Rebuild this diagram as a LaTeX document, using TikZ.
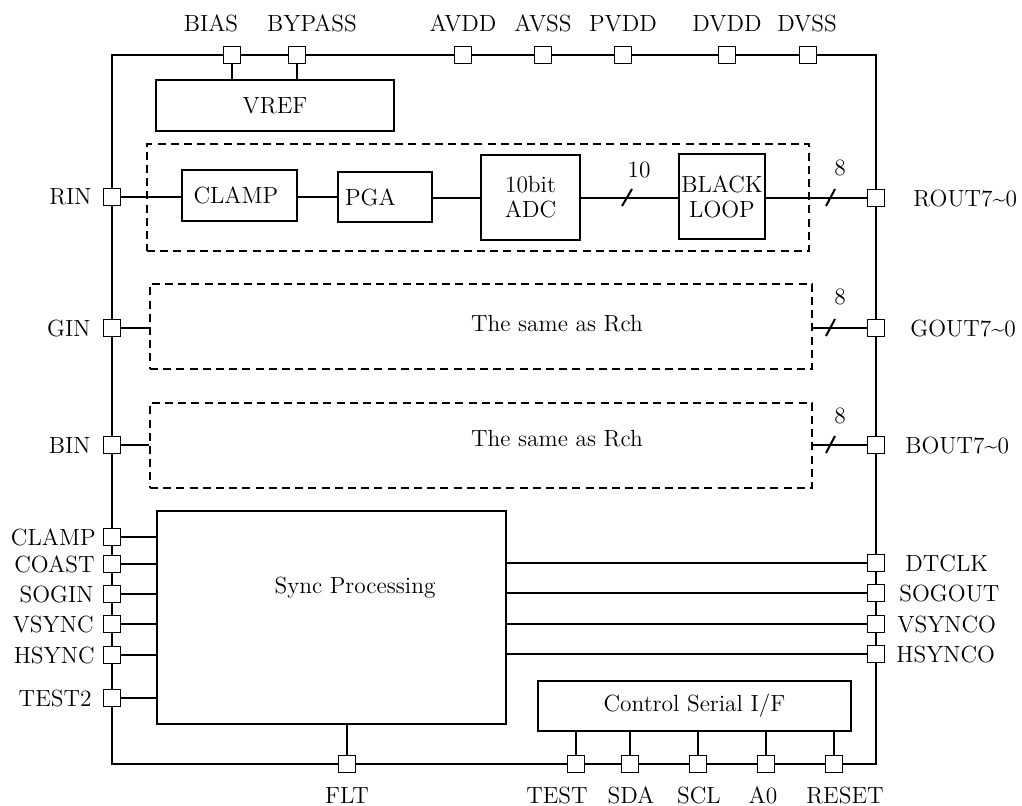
\documentclass[tikz,border=0pt]{standalone}
\begin{document}
\begin{tikzpicture}[x=0.5pt,y=-0.5pt,
  every node/.style={font=\fontsize{11.7}{12.5}\selectfont, inner sep=0pt},
  pinbox/.style={draw, fill=white, line width=0.65pt, minimum size=8.5pt, inner sep=0pt},
  blk/.style={draw, line width=0.65pt, inner sep=0pt, align=center},
  dbox/.style={draw, line width=1.4pt, dash pattern=on 4pt off 2.6pt},
  wire/.style={line width=0.65pt},
  bus/.style={line width=1pt},
  frame/.style={line width=1pt}]
\useasboundingbox (0,0) rectangle (1022,805);
% outer frame
\draw[frame] (112,55) rectangle (876,764);
% blocks
\node[blk, minimum width=119pt, minimum height=25.5pt] (vref) at (275,105.5) {VREF};
\node[dbox, minimum width=331pt, minimum height=53.5pt] (rdash) at (478,197.5) {};
\node[dbox, minimum width=331pt, minimum height=42.5pt] (gdash) at (481,326.5) {};
\node[dbox, minimum width=331pt, minimum height=42.5pt] (bdash) at (481,445.5) {};
\node (gtxt) at (557,324) {The same as Rch};
\node (btxt) at (557,439) {The same as Rch};
\node[blk, minimum width=57.5pt, minimum height=25.5pt, text width=46pt, inner xsep=5.75pt, align=left] (clamp) at (239.5,195.5) {CLAMP};
\node[blk, minimum width=47pt, minimum height=25pt, text width=40pt, inner xsep=3.5pt, align=left] (pga) at (385,197) {PGA};
\node[blk, minimum width=49.5pt, minimum height=42.5pt] (adc) at (530.5,197.5) {10bit\\ADC};
\node[blk, minimum width=43pt, minimum height=42.5pt] (black) at (722,196.5) {BLACK\\LOOP};
\node[blk, minimum width=174.5pt, minimum height=106.5pt] (sync) at (331.5,617.5) {};
\node (synctxt) at (355,588) {Sync Processing};
\node[blk, minimum width=156.5pt, minimum height=25pt] (ctrl) at (694.5,706) {Control Serial I/F};
% top pins
\node[pinbox] (pBIAS) at (232,55) {};
\node[pinbox] (pBYPASS) at (297,55) {};
\node[pinbox] (pAVDD) at (463,55) {};
\node[pinbox] (pAVSS) at (543,55) {};
\node[pinbox] (pPVDD) at (623,55) {};
\node[pinbox] (pDVDD) at (727,55) {};
\node[pinbox] (pDVSS) at (808,55) {};
\node[anchor=base] (lBIAS) at (211,31) {BIAS};
\node[anchor=base] (lBYPASS) at (312,31) {BYPASS};
\node[anchor=base] (lAVDD) at (463,31) {AVDD};
\node[anchor=base] (lAVSS) at (543,31) {AVSS};
\node[anchor=base] (lPVDD) at (623,31) {PVDD};
\node[anchor=base] (lDVDD) at (727,31) {DVDD};
\node[anchor=base] (lDVSS) at (807,31) {DVSS};
% left pins
\node[pinbox] (pRIN) at (112,197) {};
\node[pinbox] (pGIN) at (112,328) {};
\node[pinbox] (pBIN) at (112,445) {};
\node[pinbox] (pCLAMP) at (112,537) {};
\node[pinbox] (pCOAST) at (112,564) {};
\node[pinbox] (pSOGIN) at (112,594) {};
\node[pinbox] (pVSYNC) at (112,624) {};
\node[pinbox] (pHSYNC) at (112,655) {};
\node[pinbox] (pTESTtwo) at (112,698) {};
\node[anchor=east] (lRIN) at (92,197) {RIN};
\node[anchor=east] (lGIN) at (91,328) {GIN};
\node[anchor=east] (lBIN) at (91,445) {BIN};
\node[anchor=east] (lCLAMP) at (96,537) {CLAMP};
\node[anchor=east] (lCOAST) at (95,564) {COAST};
\node[anchor=east] (lSOGIN) at (94,594) {SOGIN};
\node[anchor=east] (lVSYNC) at (94,624) {VSYNC};
\node[anchor=east] (lHSYNC) at (95,655) {HSYNC};
\node[anchor=east] (lTESTtwo) at (92,698) {TEST2};
% right pins
\node[pinbox] (pROUT) at (876,198) {};
\node[pinbox] (pGOUT) at (876,328) {};
\node[pinbox] (pBOUT) at (876,445) {};
\node[pinbox] (pDTCLK) at (876,563) {};
\node[pinbox] (pSOGOUT) at (876,593) {};
\node[pinbox] (pVSYNCO) at (876,624) {};
\node[pinbox] (pHSYNCO) at (876,654) {};
\node[anchor=west] (lROUT) at (913,198) {ROUT7\textasciitilde0};
\node[anchor=west] (lGOUT) at (910,328) {GOUT7\textasciitilde0};
\node[anchor=west] (lBOUT) at (905,445) {BOUT7\textasciitilde0};
\node[anchor=west] (lDTCLK) at (905,563) {DTCLK};
\node[anchor=west] (lSOGOUT) at (899,593) {SOGOUT};
\node[anchor=west] (lVSYNCO) at (897,624) {VSYNCO};
\node[anchor=west] (lHSYNCO) at (896,654) {HSYNCO};
% bottom pins
\node[pinbox] (pFLT) at (347,764) {};
\node[pinbox] (pTEST) at (576,764) {};
\node[pinbox] (pSDA) at (630,764) {};
\node[pinbox] (pSCL) at (698,764) {};
\node[pinbox] (pAzero) at (766,764) {};
\node[pinbox] (pRESET) at (834,764) {};
\node[anchor=base] (lFLT) at (347,803) {FLT};
\node[anchor=base] (lTEST) at (557,803) {TEST};
\node[anchor=base] (lSDA) at (631,803) {SDA};
\node[anchor=base] (lSCL) at (699,803) {SCL};
\node[anchor=base] (lAzero) at (763,803) {A0};
\node[anchor=base] (lRESET) at (845,803) {RESET};
% top connections
\draw[wire] (pBIAS.south) -- (pBIAS.south |- vref.north);
\draw[wire] (pBYPASS.south) -- (pBYPASS.south |- vref.north);
% R channel
\draw[wire] (pRIN.east) -- (pRIN.east -| clamp.west);
\draw[wire] (pRIN -| clamp.east) -- (pRIN -| pga.west);
\draw[wire] (pga.east |- pROUT) -- (adc.west |- pROUT);
\draw[bus] (adc.east |- pROUT) -- (black.west |- pROUT);
\draw[bus] (black.east |- pROUT) -- (pROUT.west);
\coordinate (sA1) at (622,206); \coordinate (sA2) at (632,189);
\draw[bus] (sA1) -- (sA2);
\node (ten) at (639,170) {10};
\coordinate (sR1) at (826,206); \coordinate (sR2) at (835,189);
\draw[bus] (sR1) -- (sR2);
\node (eightR) at (840,168) {8};
% G channel
\draw[wire] (pGIN.east) -- (pGIN.east -| gdash.west);
\draw[bus] (gdash.east |- pGOUT) -- (pGOUT.west);
\coordinate (sG1) at (826,336); \coordinate (sG2) at (835,319);
\draw[bus] (sG1) -- (sG2);
\node (eightG) at (840,297) {8};
% B channel
\draw[wire] (pBIN.east) -- (pBIN.east -| bdash.west);
\draw[bus] (bdash.east |- pBOUT) -- (pBOUT.west);
\coordinate (sB1) at (826,453); \coordinate (sB2) at (835,436);
\draw[bus] (sB1) -- (sB2);
\node (eightB) at (840,416) {8};
% sync inputs
\foreach \p in {pCLAMP,pCOAST,pSOGIN,pVSYNC,pHSYNC,pTESTtwo}
  \draw[wire] (\p.east) -- (\p.east -| sync.west);
% sync outputs
\foreach \p in {pDTCLK,pSOGOUT,pVSYNCO,pHSYNCO}
  \draw[wire] (sync.east |- \p) -- (\p.west);
% bottom
\draw[wire] (sync.south -| pFLT) -- (pFLT.north);
\foreach \p in {pTEST,pSDA,pSCL,pAzero,pRESET}
  \draw[wire] (ctrl.south -| \p) -- (\p.north);
\end{tikzpicture}
\end{document}
